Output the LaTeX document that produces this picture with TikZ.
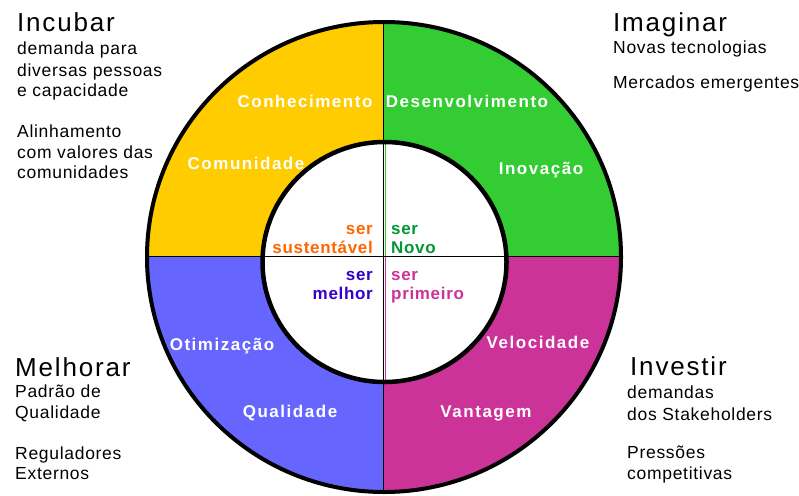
\documentclass[tikz,border=0pt]{standalone}
\usepackage{fontspec}
\setmainfont{Liberation Sans}
\newfontfamily\bodyf[LetterSpace=4]{Liberation Sans}
\newfontfamily\titlef[LetterSpace=7]{Liberation Sans}
\newfontfamily\ringf[LetterSpace=9]{Liberation Sans}
\newfontfamily\innf[LetterSpace=4]{Liberation Sans}
\definecolor{qyellow}{HTML}{FFCC00}
\definecolor{qgreen}{HTML}{33CC33}
\definecolor{qblue}{HTML}{6666FF}
\definecolor{qmag}{HTML}{CC3399}
\definecolor{torange}{HTML}{FF6600}
\definecolor{tgreen}{HTML}{009933}
\definecolor{tblue}{HTML}{3300CC}
\definecolor{tmag}{HTML}{CC3399}
\begin{document}
\begin{tikzpicture}[x=1pt,y=-1pt,
  title/.style={anchor=base west, inner sep=0, font=\titlef\fontsize{26}{30}\selectfont},
  body/.style={anchor=base west, inner sep=0, font=\bodyf\fontsize{17.5}{21}\selectfont},
  ring/.style={anchor=base, inner sep=0, text=white, font=\ringf\bfseries\fontsize{17}{20}\selectfont},
  inl/.style={anchor=base east, inner sep=0, font=\innf\bfseries\fontsize{17}{20}\selectfont},
  inr/.style={anchor=base west, inner sep=0, font=\innf\bfseries\fontsize{17}{20}\selectfont}]
\useasboundingbox (0,0) rectangle (799,495);
\coordinate (oc) at (384,257);
\coordinate (ic) at (384.5,262);
% quadrants
\begin{scope}
\clip (oc) ellipse [x radius=237, y radius=235];
\fill[qyellow] (140,10) rectangle (384,256);
\fill[qgreen] (384,10) rectangle (630,256);
\fill[qblue] (140,256) rectangle (384,500);
\fill[qmag] (384,256) rectangle (630,500);
\end{scope}
\fill[white] (ic) ellipse [x radius=122, y radius=120];
% dividers
\coordinate (hl) at (147,256);
\coordinate (hr) at (621,256);
\coordinate (vt) at (383.5,22);
\coordinate (vb) at (383.5,492);
\draw[line width=1pt] (hl) -- (hr);
\draw[line width=1pt] (vt) -- (vb);
\draw[qgreen, line width=1.6pt] (385.4,142) -- (385.4,255.5);
\draw[qmag, line width=1.6pt] (385.4,256.5) -- (385.4,382);
% borders
\draw[line width=4.5pt] (ic) ellipse [x radius=122, y radius=120];
\draw[line width=4pt] (oc) ellipse [x radius=237, y radius=235];
% ring labels
\node[ring] (conh) at (305,107) {Conhecimento};
\node[ring] (dese) at (467,107) {Desenvolvimento};
\node[ring] (comu) at (246,169) {Comunidade};
\node[ring] (inov) at (541,174) {Inovação};
\node[ring] (otim) at (222,350) {Otimização};
\node[ring] (velo) at (538,348) {Velocidade};
\node[ring] (qual) at (290,417) {Qualidade};
\node[ring] (vant) at (486,417) {Vantagem};
% inner labels
\node[inl, text=torange] (s1a) at (373,234) {ser};
\node[inl, text=torange] (s1b) at (373,253) {sustentável};
\node[inr, text=tgreen] (s2a) at (391,234) {ser};
\node[inr, text=tgreen] (s2b) at (391,253) {Novo};
\node[inl, text=tblue] (s3a) at (373,280) {ser};
\node[inl, text=tblue] (s3b) at (373,299) {melhor};
\node[inr, text=tmag] (s4a) at (391,280) {ser};
\node[inr, text=tmag] (s4b) at (391,299) {primeiro};
% Incubar
\node[title] (inc) at (17,32) {Incubar};
\node[body] (inc1) at (17,55) {demanda para};
\node[body] (inc2) at (17,76) {diversas pessoas};
\node[body] (inc3) at (17,96) {e capacidade};
\node[body] (inc4) at (17,137.5) {Alinhamento};
\node[body] (inc5) at (17,158) {com valores das};
\node[body] (inc6) at (17,178) {comunidades};
% Imaginar
\node[title] (ima) at (613,32) {Imaginar};
\node[body] (ima1) at (613,53) {Novas tecnologias};
\node[body] (ima2) at (613,88) {Mercados emergentes};
% Melhorar
\node[title] (mel) at (15,376) {Melhorar};
\node[body] (mel1) at (15,397) {Padrão de};
\node[body] (mel2) at (15,418) {Qualidade};
\node[body] (mel3) at (15,459) {Reguladores};
\node[body] (mel4) at (15,479) {Externos};
% Investir
\node[title] (inv) at (630,375) {Investir};
\node[body] (inv1) at (627,398) {demandas};
\node[body] (inv2) at (627,420) {dos Stakeholders};
\node[body] (inv3) at (627,458) {Pressões};
\node[body] (inv4) at (627,479) {competitivas};
\end{tikzpicture}
\end{document}
